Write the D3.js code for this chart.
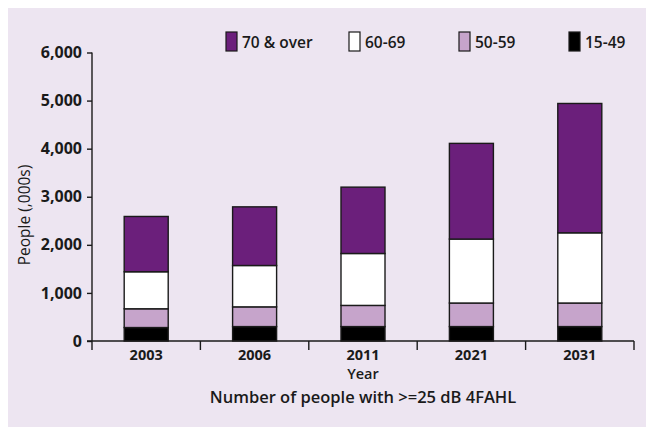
<!DOCTYPE html>
<html>
<head>
<meta charset="utf-8">
<script src="https://cdn.jsdelivr.net/npm/d3@7"></script>
<style>
  html, body { margin: 0; padding: 0; background: #ffffff; }
  svg { display: block; }
  text { font-family: "Open Sans", "DejaVu Sans", sans-serif; fill: #1a1a1a; }
</style>
</head>
<body>
<script>
// Projected number of people with >=25 dB 4FAHL, in thousands, by age band
const years = ["2003", "2006", "2011", "2021", "2031"];
const ageGroups = ["15-49", "50-59", "60-69", "70 & over"];
const age15to49 = [280, 300, 300, 300, 300];
const age50to59 = [390, 410, 440, 490, 490];
const age60to69 = [770, 860, 1080, 1330, 1460];
const age70plus = [1150, 1220, 1380, 1990, 2690];
const yTicks = [0, 1000, 2000, 3000, 4000, 5000, 6000];
const legendOrder = ["70 & over", "60-69", "50-59", "15-49"];

const colors = {
  "15-49": "#000000",
  "50-59": "#c6a4cb",
  "60-69": "#ffffff",
  "70 & over": "#6b1f7b"
};

const W = 646, H = 427;
const svg = d3.select("body").append("svg").attr("width", W).attr("height", H);

// panel background
svg.append("rect").attr("x", 8).attr("y", 8).attr("width", W - 8).attr("height", H - 8)
  .attr("fill", "#ede5f1");

const plotLeft = 92, plotRight = 634, plotTop = 52.5, plotBottom = 341;

const x = d3.scaleBand().domain(years).range([plotLeft, plotRight])
  .paddingInner(0.594).paddingOuter(0.297);
const y = d3.scaleLinear().domain([0, 6000]).range([plotBottom, plotTop]);

const rows = years.map((yr, i) => ({
  year: yr,
  "15-49": age15to49[i],
  "50-59": age50to59[i],
  "60-69": age60to69[i],
  "70 & over": age70plus[i]
}));
const stacked = d3.stack().keys(ageGroups)(rows);

// stacked bars
svg.append("g").selectAll("g").data(stacked).join("g")
  .attr("fill", d => colors[d.key])
  .selectAll("rect").data(d => d).join("rect")
  .attr("x", d => x(d.data.year))
  .attr("width", x.bandwidth())
  .attr("y", d => y(d[1]))
  .attr("height", d => y(d[0]) - y(d[1]))
  .attr("stroke", "#1a1a1a")
  .attr("stroke-width", 1.4);

// y axis
const yAxis = svg.append("g").attr("transform", `translate(${plotLeft},0)`)
  .call(d3.axisLeft(y).tickValues(yTicks).tickSize(5).tickPadding(5)
    .tickFormat(d3.format(",")));
yAxis.select(".domain").attr("d", `M0,${plotTop}V${plotBottom + 9}`)
  .attr("stroke", "#1a1a1a").attr("stroke-width", 1.4);
yAxis.selectAll(".tick line").attr("stroke", "#1a1a1a").attr("stroke-width", 1.4);
yAxis.selectAll(".tick text").attr("font-size", 16).attr("font-weight", 700)
  .attr("fill", "#1a1a1a").attr("font-family", "'Open Sans', sans-serif");

// x axis: baseline with ticks at band boundaries
const xAxis = svg.append("g");
xAxis.append("line").attr("x1", plotLeft - 5).attr("x2", plotRight)
  .attr("y1", plotBottom).attr("y2", plotBottom)
  .attr("stroke", "#1a1a1a").attr("stroke-width", 1.4);
const step = x.step();
xAxis.selectAll("line.b").data(d3.range(1, years.length + 1)).join("line")
  .attr("class", "b")
  .attr("x1", i => plotLeft + i * step).attr("x2", i => plotLeft + i * step)
  .attr("y1", plotBottom).attr("y2", plotBottom + 9)
  .attr("stroke", "#1a1a1a").attr("stroke-width", 1.4);
xAxis.selectAll("text").data(years).join("text")
  .attr("x", d => x(d) + x.bandwidth() / 2)
  .attr("y", 359.5)
  .attr("text-anchor", "middle")
  .attr("font-size", 14.5).attr("font-weight", 700)
  .text(d => d);

// axis titles
svg.append("text").attr("x", (plotLeft + plotRight) / 2).attr("y", 379.3)
  .attr("text-anchor", "middle").attr("font-size", 14.5).attr("font-weight", 600)
  .text("Year");
svg.append("text").attr("x", (plotLeft + plotRight) / 2).attr("y", 402.5)
  .attr("text-anchor", "middle").attr("font-size", 16.5).attr("font-weight", 600)
  .text("Number of people with >=25 dB 4FAHL");
svg.append("text")
  .attr("transform", `translate(30,215) rotate(-90)`)
  .attr("text-anchor", "middle").attr("font-size", 15.5)
  .text("People (,000s)");

// legend
const legendX = [226, 349, 459, 569];
const legend = svg.append("g").selectAll("g").data(legendOrder).join("g")
  .attr("transform", (d, i) => `translate(${legendX[i]},32)`);
legend.append("rect").attr("width", 11).attr("height", 19)
  .attr("fill", d => colors[d]).attr("stroke", "#1a1a1a").attr("stroke-width", 1.2);
legend.append("text").attr("x", 16).attr("y", 16)
  .attr("font-size", 15.5).attr("font-weight", 600)
  .text(d => d);
</script>
</body>
</html>
